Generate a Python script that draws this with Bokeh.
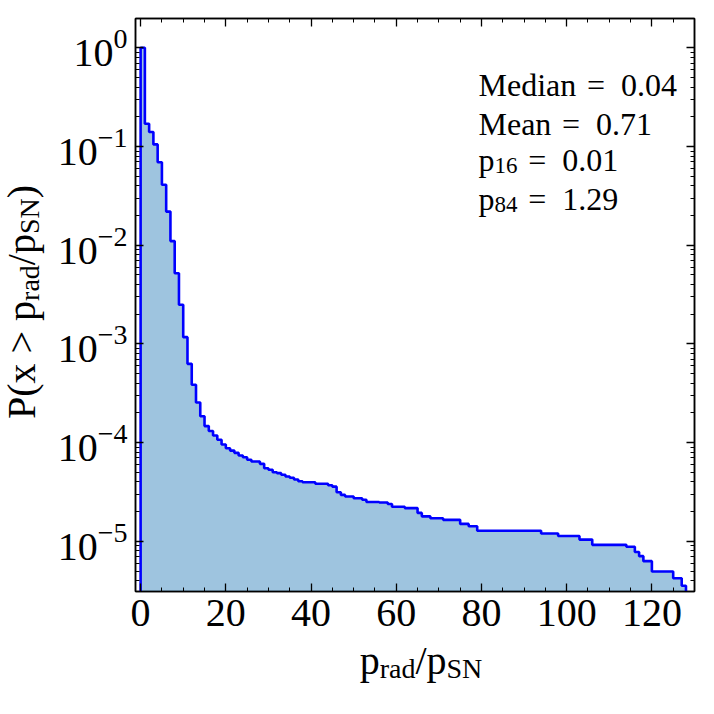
import numpy as np
from bokeh.plotting import figure
from bokeh.layouts import row, column
from bokeh.models import (Label, LinearAxis, LogAxis, SingleIntervalTicker,
                          LogTicker, CustomJSTickFormatter, Range1d)
from bokeh.embed import file_html
from bokeh.resources import INLINE

# ---------------- data ----------------
bin_start = [0, 1, 2, 3, 4, 5, 6, 7, 8, 9, 10, 11, 12, 13, 14, 15, 16, 17, 18, 19,
             20, 21, 22, 23, 24, 25, 26, 28, 29, 30, 31, 32, 33, 34, 35, 36, 37, 38,
             41, 44, 45, 46, 47, 48, 50, 52, 53, 56, 58, 59, 62, 65, 66, 68, 71, 75,
             77, 79, 94, 98, 103, 106, 114, 116, 117, 118, 120, 125, 127]
bin_end = 128
prob = [1.0, 0.170, 0.140, 0.105, 0.0693, 0.0409, 0.0219, 0.0110, 0.0052, 0.00249,
        0.00117, 6.28e-4, 3.85e-4, 2.55e-4, 1.85e-4, 1.47e-4, 1.31e-4, 1.18e-4, 1.07e-4,
        9.57e-5, 8.77e-5, 8.3e-5, 7.87e-5, 7.39e-5, 7.11e-5, 6.7e-5, 6.43e-5, 6.09e-5,
        5.5e-5, 5.3e-5, 5.0e-5, 4.9e-5, 4.72e-5, 4.54e-5, 4.4e-5, 4.23e-5, 4.06e-5,
        3.97e-5, 3.83e-5, 3.7e-5, 3.58e-5, 3.14e-5, 2.95e-5, 2.84e-5, 2.73e-5, 2.64e-5,
        2.5e-5, 2.47e-5, 2.39e-5, 2.24e-5, 2.17e-5, 1.94e-5, 1.79e-5, 1.71e-5, 1.65e-5,
        1.50e-5, 1.42e-5, 1.28e-5, 1.2e-5, 1.13e-5, 1.04e-5, 9.2e-6, 8.8e-6, 7.8e-6,
        7.07e-6, 6.29e-6, 4.94e-6, 4.23e-6, 3.54e-6]

stat_names = ["Median", "Mean", "p", "p"]
stat_subs = ["", "", "16", "84"]
stat_values = ["0.04", "0.71", "0.01", "1.29"]

# ---------------- style ----------------
FONT = "Liberation Serif"
W = 714
H = 714
YLAB_W = 50                  # strip holding the y-axis title
MAIN_H = 651                 # main figure height (frame bottom at 591)
XLAB_OVERLAP = 30            # x-title strip slides up over the main figure
XLAB_H = H - MAIN_H + XLAB_OVERLAP
MAIN_W = W - YLAB_W
FL, FR, FT, FB = 135 - YLAB_W, 20, 18, 60   # main frame borders
BIG = 40
SMALL = 28
TXT = 32
TXT_SUB = 23
FLOOR = 1e-8
BASE_FIX = 12                # renderer draws "alphabetic" text this much lower
VROT_FIX_X = 12              # same offset for the rotated title
VROT_FIX_Y = 57

# Times advance widths (per 1000 em)
ADV = {' ': 250, '(': 333, ')': 333, '/': 278, '>': 564, '=': 564, '.': 250,
       'P': 556, 'S': 556, 'N': 722, 'M': 889, 'a': 444, 'd': 500, 'e': 444,
       'i': 278, 'n': 500, 'p': 500, 'r': 333, 'x': 500}


def tw(s, size):
    return sum(ADV.get(c, 500) for c in s) / 1000.0 * size


def add_pieces(fig, pieces, x0, y0, vertical=False):
    """pieces: (text, size, baseline shift). x0, y0 in frame-relative screen px."""
    pos = 0.0
    for text, size, shift in pieces:
        if vertical:
            lx, ly, ang = x0 + shift, y0 + pos, np.pi / 2
        else:
            lx, ly, ang = x0 + pos, y0 - shift, 0.0
        fig.add_layout(Label(x=lx, y=ly, x_units="screen", y_units="screen",
                             text=text, angle=ang, text_font=FONT,
                             text_font_size=f"{size}px", text_color="black",
                             text_baseline="alphabetic", text_align="left"))
        pos += tw(text, size)


def blank_fig(w, h, transparent=False, **kw):
    f = figure(width=w, height=h, x_range=Range1d(0, 1), y_range=Range1d(0, 1),
               x_axis_location=None, y_axis_location=None,
               output_backend="svg", toolbar_location=None,
               min_border=0, min_border_left=0, min_border_right=0,
               min_border_top=0, min_border_bottom=0, **kw)
    f.outline_line_color = None
    f.xgrid.visible = False
    f.ygrid.visible = False
    if transparent:
        f.background_fill_color = None
        f.border_fill_color = None
    else:
        f.background_fill_color = "white"
        f.border_fill_color = "white"
    return f


# ---------------- main figure ----------------
p = figure(width=MAIN_W, height=MAIN_H, y_axis_type="log",
           x_range=Range1d(-1.2, 130.0), y_range=Range1d(3.1e-6, 1.98),
           output_backend="svg", toolbar_location=None,
           min_border_left=FL, min_border_right=FR,
           min_border_top=FT, min_border_bottom=FB)
p.background_fill_color = "white"
p.border_fill_color = "white"
p.xgrid.visible = False
p.ygrid.visible = False
p.outline_line_color = "black"
p.outline_line_width = 1.5
p.outline_line_alpha = 1.0

edges = bin_start + [bin_end]
xs = np.repeat(np.array(edges, dtype=float), 2)
ys = np.concatenate([[FLOOR], np.repeat(np.array(prob), 2), [FLOOR]])

p.varea(x=xs, y1=FLOOR, y2=ys, fill_color="#1f77b4", fill_alpha=0.43)
p.line(x=xs, y=ys, line_color="#0000ff", line_width=2.6)

xticker = SingleIntervalTicker(interval=20, num_minor_ticks=4)
yticker = LogTicker(num_minor_ticks=10, desired_num_ticks=6)
blank = CustomJSTickFormatter(code="return ''")


def style_axis(ax, labels=True):
    ax.axis_line_color = "black"
    ax.axis_line_width = 1.5
    ax.major_tick_in = 8
    ax.major_tick_out = 0
    ax.minor_tick_in = 4
    ax.minor_tick_out = 0
    ax.major_tick_line_color = "black"
    ax.minor_tick_line_color = "black"
    ax.major_tick_line_width = 1.3
    ax.minor_tick_line_width = 1.0
    ax.major_label_text_font = FONT
    ax.major_label_text_color = "black"
    if labels:
        ax.major_label_text_font_size = f"{BIG}px"
        ax.major_label_standoff = 8
    else:
        ax.major_label_text_font_size = "1px"
        ax.major_label_standoff = 0
        ax.formatter = blank


p.xaxis.ticker = xticker
p.yaxis.ticker = yticker
for ax in p.xaxis:
    style_axis(ax)
for ax in p.yaxis:
    style_axis(ax)

top = LinearAxis(ticker=xticker)
style_axis(top, labels=False)
p.add_layout(top, "above")
right = LogAxis(ticker=yticker)
style_axis(right, labels=False)
p.add_layout(right, "right")

frame_w = MAIN_W - FL - FR
frame_h = MAIN_H - FT - FB

# statistics annotation (canvas baselines 96, 135, 171, 210)
line_base = [96, 135, 171, 210]
for name, sub, val, yb in zip(stat_names, stat_subs, stat_values, line_base):
    pieces = [(name, TXT, 0)]
    if sub:
        pieces.append((sub, TXT_SUB, 6))
    pieces.append(("\u2004=\u2002" + val, TXT, 0))
    add_pieces(p, pieces, 478 - 135, (FT + frame_h) - yb + BASE_FIX)

# ---------------- y-axis title strip ----------------
ylab = blank_fig(YLAB_W, MAIN_H)
yl = [("P(x > p", BIG, 0), ("rad", SMALL, 8), ("/p", BIG, 0), ("SN", SMALL, 8), (")", BIG, 0)]
yl_w = sum(tw(t, s) for t, s, _ in yl)
frame_mid = MAIN_H - (FT + frame_h / 2)          # from bottom of strip
add_pieces(ylab, yl, 33 - VROT_FIX_X, frame_mid - yl_w / 2 - VROT_FIX_Y, vertical=True)

# ---------------- x-axis title strip (transparent, overlapping) ----------------
xlab = blank_fig(W, XLAB_H, transparent=True, margin=(-XLAB_OVERLAP, 0, 0, 0))
xl = [("p", BIG, 0), ("rad", SMALL, 8), ("/p", BIG, 0), ("SN", SMALL, 8)]
xl_w = sum(tw(t, s) for t, s, _ in xl)
frame_cx = 135 + frame_w / 2
strip_top = MAIN_H - XLAB_OVERLAP                 # canvas y of strip top
add_pieces(xlab, xl, frame_cx - xl_w / 2 + 6, XLAB_H - (672 - strip_top) + BASE_FIX)

layout = column(row(ylab, p, spacing=0), xlab, spacing=0)
open("out.html", "w").write(file_html(layout, INLINE))
